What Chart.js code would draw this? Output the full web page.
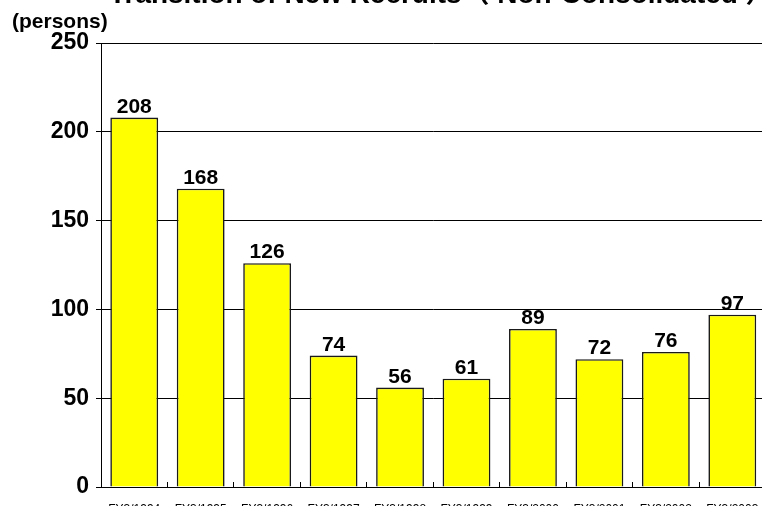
<!DOCTYPE html>
<html>
<head>
<meta charset="utf-8">
<script src="https://cdn.jsdelivr.net/npm/chart.js@4/dist/chart.umd.min.js"></script>
<style>
  html, body { margin: 0; padding: 0; background: #fff; overflow: hidden; }
  #wrap { position: absolute; left: 0; top: -20px; }
</style>
</head>
<body>
<div id="wrap"><canvas id="c" width="779" height="540"></canvas></div>
<script>
// Fiscal years (ending March) and the number of new recruits in each
const categories = ['FY3/1994', 'FY3/1995', 'FY3/1996', 'FY3/1997', 'FY3/1998',
                    'FY3/1999', 'FY3/2000', 'FY3/2001', 'FY3/2002', 'FY3/2003'];
const recruits = [208, 168, 126, 74, 56, 61, 89, 72, 76, 97];
const yTicks = [0, 50, 100, 150, 200, 250];

const FONT = '"Liberation Sans", Arial, "Noto Sans CJK JP", sans-serif';

// Value labels above each bar, plus the unit label above the y axis
const barValueLabels = {
  id: 'barValueLabels',
  afterLayout(chart) {
    // nudge the title so its visible glyphs sit centred over the plot
    const t = chart.titleBlock;
    if (t) { t.left += 8; t.right += 8; }
  },
  afterDatasetsDraw(chart) {
    const ctx = chart.ctx;
    const meta = chart.getDatasetMeta(0);
    ctx.save();
    ctx.fillStyle = '#000';
    ctx.font = 'bold 21px ' + FONT;
    ctx.textAlign = 'center';
    ctx.textBaseline = 'alphabetic';
    meta.data.forEach((bar, i) => {
      ctx.fillText(String(recruits[i]), bar.x, bar.y - 5);
    });
    ctx.font = 'bold 21px ' + FONT;
    ctx.textAlign = 'left';
    ctx.textBaseline = 'middle';
    ctx.fillText('(persons)', 12, chart.chartArea.top - 21);
    ctx.restore();
  }
};

new Chart(document.getElementById('c'), {
  type: 'bar',
  data: {
    labels: categories,
    datasets: [{
      data: recruits,
      backgroundColor: '#FFFF00',
      borderColor: '#1a1a1a',
      borderWidth: 1.6,
      categoryPercentage: 1.0,
      barPercentage: 0.72
    }]
  },
  options: {
    responsive: false,
    animation: false,
    layout: { padding: { left: 0, right: 0, top: 0, bottom: 0 } },
    plugins: {
      legend: { display: false },
      tooltip: { enabled: false },
      title: {
        display: true,
        fullSize: false,
        text: 'Transition of New Recruits（ Non-Consolidated ）',
        color: '#000',
        font: { family: FONT, size: 28, weight: 'bold', lineHeight: 1.1 },
        padding: { top: 0, bottom: 32.2 }
      }
    },
    scales: {
      x: {
        offset: true,
        grid: {
          display: true,
          drawOnChartArea: false,
          drawTicks: true,
          tickLength: -5,
          color: '#000',
          lineWidth: 1
        },
        border: { display: true, color: '#000', width: 1 },
        ticks: {
          color: '#000',
          font: { family: FONT, size: 12 },
          padding: 20,
          maxRotation: 0,
          autoSkip: false
        },
        afterFit(scale) { scale.height = 33; }
      },
      y: {
        min: 0,
        max: 250,
        afterBuildTicks(scale) {
          scale.ticks = yTicks.map(v => ({ value: v }));
        },
        grid: {
          color: '#000',
          lineWidth: 1,
          drawTicks: true,
          tickLength: 5,
          tickColor: '#000'
        },
        border: { display: true, color: '#000', width: 1 },
        ticks: {
          color: '#000',
          font: { family: FONT, size: 23, weight: 'bold' },
          padding: 7
        },
        afterFit(scale) { scale.width = 101; }
      }
    }
  },
  plugins: [barValueLabels]
});
</script>
</body>
</html>
